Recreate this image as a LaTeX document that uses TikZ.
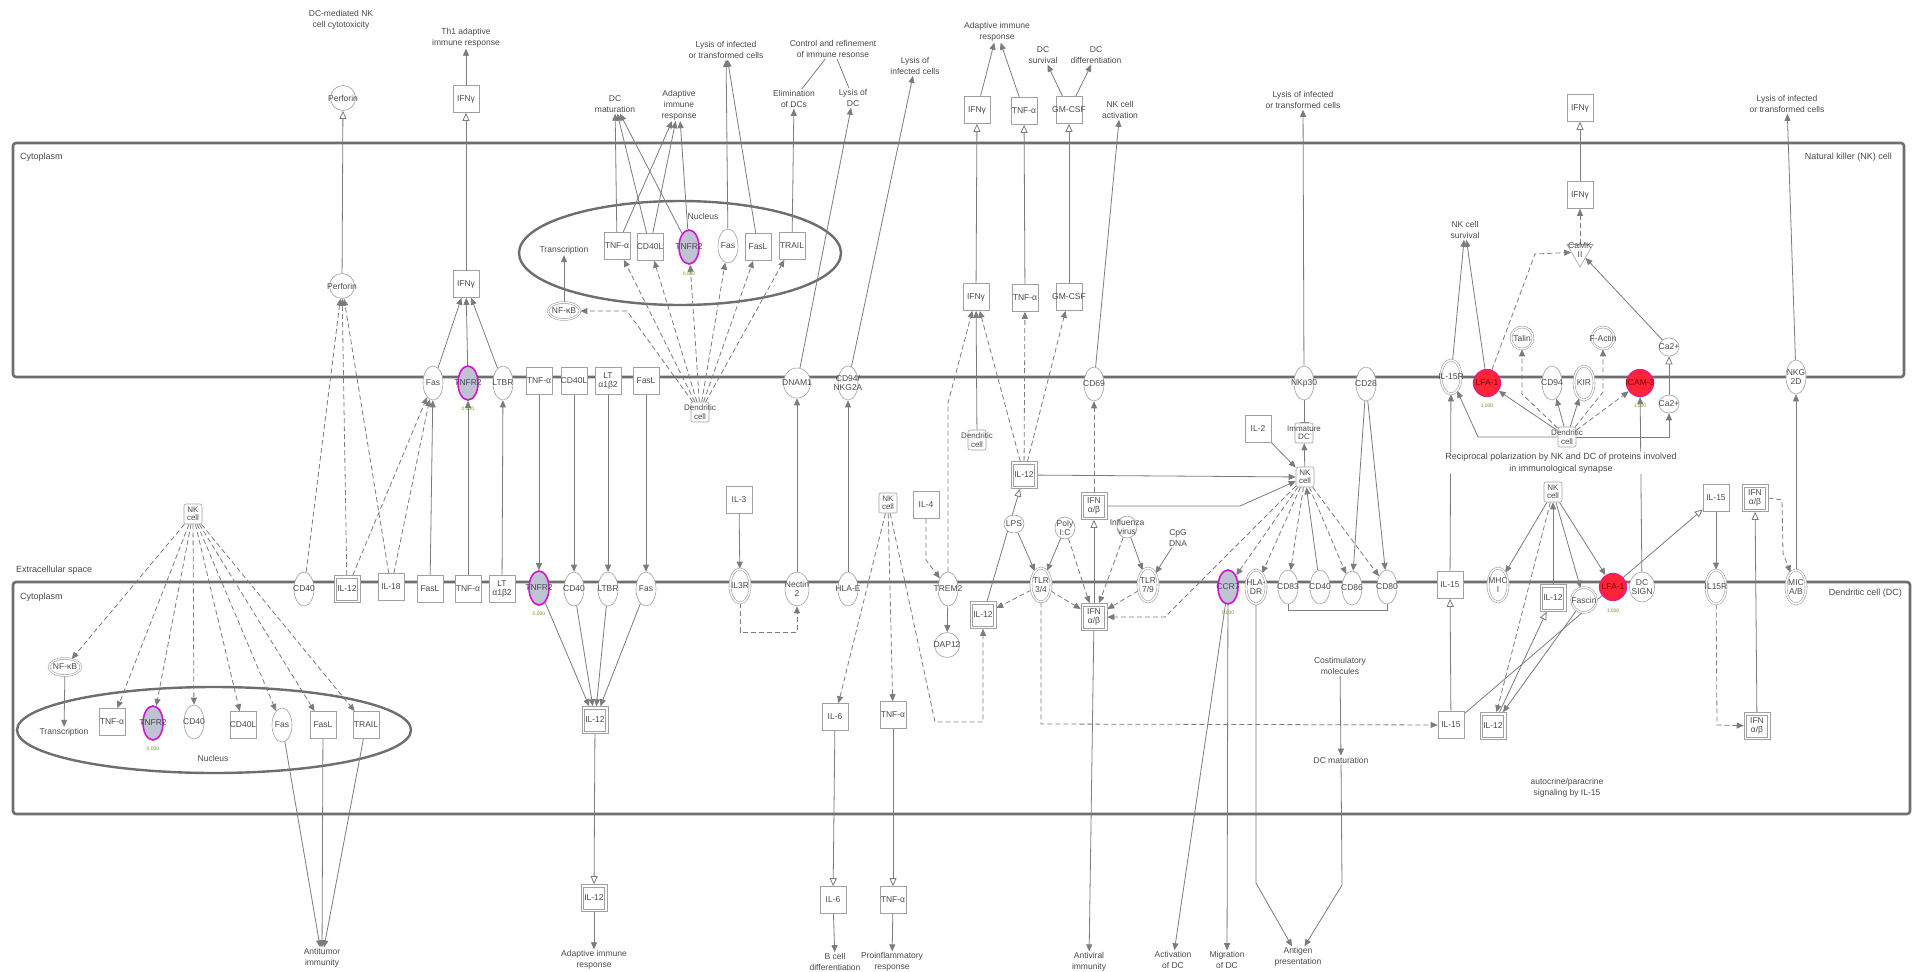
\documentclass[tikz,border=0pt]{standalone}
\usepackage{fontspec}
\setmainfont{Liberation Sans}
\usepackage{tikz}
\usetikzlibrary{positioning, arrows.meta, shapes.geometric, calc}
\pgfdeclarelayer{background}
\pgfdeclarelayer{edges}
\pgfsetlayers{background,edges,main}
\definecolor{lineGray}{HTML}{7C7C7C}
\definecolor{nodeGray}{HTML}{A0A0A0}
\definecolor{memGray}{HTML}{6E6E6E}
\definecolor{txtGray}{HTML}{4A4A4A}
\definecolor{hitMag}{HTML}{D014D0}
\definecolor{hitFill}{HTML}{BEC2D2}
\definecolor{upRed}{HTML}{FF2438}
\definecolor{valGreen}{HTML}{6A9A20}

\begin{document}
\begin{tikzpicture}[
        x=1pt, y=-1pt,
        font=\fontsize{8.5}{9}\selectfont,
        text=txtGray,
        >={Triangle[length=7pt,width=6pt]},
        lbl/.style={inner sep=0pt, align=center, text=txtGray, font=\fontsize{8.5}{9}\selectfont},
        mol/.style={draw=nodeGray, fill=white, line width=0.6pt, inner sep=0pt},
        cyto/.style={mol, rectangle, minimum width=26pt, minimum height=27pt, label={[lbl]center:{#1}}},
        dcyto/.style={cyto={#1}, path picture={
            \draw[nodeGray, line width=0.6pt]
              ([shift={(2.6pt,2.6pt)}]path picture bounding box.south west) rectangle
              ([shift={(-2.6pt,-2.6pt)}]path picture bounding box.north east);}},
        recep/.style={mol, ellipse, minimum width=20pt, minimum height=34pt, label={[lbl]center:{#1}}},
        drecep/.style={recep={#1}, double=white, double distance=1.4pt},
        hit/.style={recep={#1}, draw=hitMag, line width=1.6pt, fill=hitFill},
        upreg/.style={mol, circle, draw=hitMag!60!upRed, line width=1.2pt, fill=upRed,
                      minimum size=27pt, label={[lbl, text=red!50!black]center:{#1}}},
        ball/.style={mol, circle, minimum size=25pt, label={[lbl]center:{#1}}},
        dball/.style={ball={#1}, minimum size=22pt, double=white, double distance=1.2pt},
        chem/.style={mol, ellipse, minimum width=20pt, minimum height=18pt, label={[lbl]center:{#1}}},
        tf/.style={mol, ellipse, minimum width=32pt, minimum height=17pt, double=white,
                   double distance=1.2pt, label={[lbl]center:{#1}}},
        kin/.style={mol, regular polygon, regular polygon sides=3, shape border rotate=180,
                    minimum size=30pt, label={[lbl, yshift=2pt]center:{#1}}},
        cell/.style={mol, rounded corners=2pt, minimum width=18pt, minimum height=20pt,
                     label={[lbl, font=\fontsize{8}{8.5}\selectfont]center:{#1}}},
        func/.style={align=center, inner sep=1pt, font=\fontsize{8.5}{11}\selectfont},
        note/.style={func, fill=white, font=\fontsize{9}{12}\selectfont},
        place/.style={inner sep=1pt, font=\fontsize{9}{11}\selectfont},
        val/.style={inner sep=0pt, text=valGreen, font=\fontsize{5}{5}\selectfont},
        link/.style={draw=lineGray, line width=0.8pt},
        arrow/.style={link, ->},
        darrow/.style={link, ->, dash pattern=on 5pt off 3pt},
        tarrow/.style={link, -{Triangle[open, length=8pt, width=7pt]}},
        inhib/.style={link, -{Bar[width=9pt]}},
        membrane/.style={draw=memGray, line width=2.6pt, rounded corners=3pt},
        nucleus/.style={draw=memGray, line width=2.4pt},
      ]
      \useasboundingbox (0,0) rectangle (1915,972);
      \begin{pgfonlayer}{background}
        \fill[white] (0,0) rectangle (1915,972);
        \draw[membrane] (13,143) rectangle (1904,377);
        \draw[membrane] (13,582) rectangle (1910,814);
        \draw[nucleus] (680,253) ellipse [x radius=161pt, y radius=52pt];
        \draw[nucleus] (214,730) ellipse [x radius=197pt, y radius=43pt];
      \end{pgfonlayer}

      \node[place, anchor=west] (lCytoN) at (19,157) {Cytoplasm};
      \node[place, anchor=east] (lNK) at (1893,157) {Natural killer (NK) cell};
      \node[place, anchor=west] (lExtra) at (15,570) {Extracellular space};
      \node[place, anchor=west] (lCytoD) at (19,597) {Cytoplasm};
      \node[place, anchor=east] (lDC) at (1903,593) {Dendritic cell (DC)};
      \node[func] (lNucN) at (703,216) {Nucleus};
      \node[func] (lNucD) at (213,758) {Nucleus};

      \node[func] (fCytotox) at (341,20) {DC-mediated NK\\cell cytotoxicity};
      \node[func] (fTh1) at (466,38) {Th1 adaptive\\immune response};
      \node[ball={Perforin}] (perfO) at (343,98) {};
      \node[cyto={IFNγ}] (ifngO) at (466,99) {};
      \node[func] (fDCmatA) at (615,104) {DC\\maturation};
      \node[func] (fAdaptA) at (679,105) {Adaptive\\immune\\response};
      \node[func] (fLysisA) at (726,50) {Lysis of infected\\or transformed cells};
      \node[func] (fControl) at (833,49) {Control and refinement\\of immune resonse};
      \node[func] (fElim) at (794,99) {Elimination\\of DCs};
      \node[func] (fLysisDC) at (853,98) {Lysis of\\DC};
      \node[func] (fLysisInf) at (915,66) {Lysis of\\infected cells};
      \node[func] (fAdaptB) at (997,32) {Adaptive immune\\response};
      \node[func] (fDCsurv) at (1043,55) {DC\\survival};
      \node[func] (fDCdiff) at (1096,55) {DC\\differentiation};
      \node[cyto={IFNγ}] (ifngP) at (977,110) {};
      \node[cyto={TNF-α}] (tnfP) at (1024,111) {};
      \node[cyto={GM-CSF}] (gmcsfP) at (1069,110) {};
      \node[func] (fNKact) at (1120,110) {NK cell\\activation};
      \node[func] (fLysisB) at (1303,100) {Lysis of infected\\or transformed cells};
      \node[cyto={IFNγ}] (ifngQ) at (1580,108) {};
      \node[func] (fLysisC) at (1787,104) {Lysis of infected\\or transformed cells};

      \node[ball={Perforin}] (perf) at (342,286) {};
      \node[cyto={IFNγ}] (ifng) at (466,284) {};
      \node[func] (transA) at (564,250) {Transcription};
      \node[cyto={TNF-α}] (tnfNuc) at (617,246) {};
      \node[cyto={CD40L}] (cd40lNuc) at (650,247) {};
      \node[hit={TNFR2}] (tnfr2Nuc) at (689,247) {};
      \node[val] (vTnfr2Nuc) at (689,274) {0.000};
      \node[recep={Fas}] (fasNuc) at (728,246) {};
      \node[cyto={FasL}] (faslNuc) at (758,247) {};
      \node[cyto={TRAIL}] (trailNuc) at (792,246) {};
      \node[tf={NF-κB}] (nfkbA) at (564,311) {};
      \node[cell={Dendritic\\cell}] (dcA) at (700,412) {};
      \node[cyto={IFNγ}] (ifngR) at (976,297) {};
      \node[cyto={TNF-α}] (tnfR) at (1025,298) {};
      \node[cyto={GM-CSF}] (gmcsfR) at (1069,297) {};
      \node[cell={Dendritic\\cell}] (dcB) at (977,440) {};
      \node[dcyto={IL-12}] (il12A) at (1024,475) {};
      \node[cyto={IL-2}] (il2) at (1258,429) {};
      \node[cell={Immature\\DC}] (imDC) at (1304,433) {};
      \node[cell={NK\\cell}] (nkB) at (1305,477) {};
      \node[dcyto={IFN\\α/β}] (ifnabA) at (1094,506) {};
      \node[func] (fNKsurv) at (1465,230) {NK cell\\survival};
      \node[cyto={IFNγ}] (ifngS) at (1580,195) {};
      \node[kin={CaMK\\II}] (camk) at (1580,252) {};
      \node[dball={Talin}] (talin) at (1522,338) {};
      \node[dball={F-Actin}] (factin) at (1603,338) {};
      \node[chem={Ca2+}] (caA) at (1669,347) {};
      \node[chem={Ca2+}] (caB) at (1669,404) {};

      \node[recep={Fas}] (fasA) at (433,383) {};
      \node[hit={TNFR2}] (tnfr2A) at (468,383) {};
      \node[val] (vTnfr2A) at (468,409) {0.000};
      \node[recep={LTBR}] (ltbrA) at (503,383) {};
      \node[cyto={TNF-α}] (tnfA) at (539,381) {};
      \node[cyto={CD40L}] (cd40lA) at (574,381) {};
      \node[cyto={LT\\α1β2}] (ltA) at (608,381) {};
      \node[cyto={FasL}] (faslA) at (646,381) {};
      \node[recep={DNAM1}, minimum width=27pt, minimum height=30pt] (dnam1) at (797,383) {};
      \node[recep={CD94/\\NKG2A}] (cd94A) at (848,383) {};
      \node[recep={CD69}] (cd69) at (1094,384) {};
      \node[recep={NKp30}] (nkp30) at (1304,383) {};
      \node[recep={CD28}] (cd28) at (1366,384) {};
      \node[drecep={IL-15R}] (il15rA) at (1451,377) {};
      \node[upreg={LFA-1}] (lfa1A) at (1487,383) {};
      \node[val] (vLfa1A) at (1487,406) {1.000};
      \node[recep={CD94}] (cd94B) at (1552,383) {};
      \node[drecep={KIR}] (kir) at (1584,383) {};
      \node[upreg={ICAM-3}] (icam3) at (1640,383) {};
      \node[val] (vIcam3) at (1640,406) {1.000};
      \node[recep={NKG\\2D}] (nkg2d) at (1796,377) {};

      \node[cell={NK\\cell}] (nkA) at (193,514) {};
      \node[cyto={IL-3}] (il3) at (739,500) {};
      \node[cell={NK\\cell}] (nkC) at (888,503) {};
      \node[cyto={IL-4}] (il4) at (926,505) {};
      \node[chem={LPS}] (lps) at (1014,524) {};
      \node[chem={Poly\\I:C}, minimum height=22pt] (polyic) at (1065,528) {};
      \node[chem={Influenza\\virus}, minimum height=22pt] (flu) at (1127,527) {};
      \node[func] (cpg) at (1178,538) {CpG\\DNA};
      \node[cell={Dendritic\\cell}] (dcC) at (1567,437) {};
      \node[note] (tRecip) at (1561,463) {Reciprocal polarization by NK and DC of proteins involved\\in immunological synapse};
      \node[cell={NK\\cell}] (nkD) at (1553,492) {};
      \node[cyto={IL-15}] (il15A) at (1716,498) {};
      \node[dcyto={IFN\\α/β}] (ifnabB) at (1755,498) {};

      \node[recep={CD40}] (cd40A) at (304,589) {};
      \node[dcyto={IL-12}] (il12B) at (347,589) {};
      \node[cyto={IL-18}] (il18) at (391,587) {};
      \node[cyto={FasL}] (faslB) at (430,589) {};
      \node[cyto={TNF-α}] (tnfB) at (468,589) {};
      \node[cyto={LT\\α1β2}] (ltB) at (502,589) {};
      \node[hit={TNFR2}] (tnfr2B) at (539,588) {};
      \node[val] (vTnfr2B) at (539,614) {0.000};
      \node[recep={CD40}] (cd40B) at (574,589) {};
      \node[recep={LTBR}] (ltbrB) at (608,589) {};
      \node[recep={Fas}] (fasB) at (646,589) {};
      \node[drecep={IL3R}] (il3r) at (740,586) {};
      \node[recep={Nectin\\2}, minimum width=24pt] (nectin) at (797,589) {};
      \node[recep={HLA-E}] (hlae) at (848,589) {};
      \node[recep={TREM2}] (trem2) at (948,589) {};
      \node[drecep={TLR\\3/4}] (tlr34) at (1041,585) {};
      \node[drecep={TLR\\7/9}] (tlr79) at (1148,585) {};
      \node[hit={CCR7}] (ccr7) at (1228,587) {};
      \node[val] (vCcr7) at (1228,613) {0.000};
      \node[drecep={HLA-\\DR}] (hladr) at (1256,587) {};
      \node[recep={CD83}] (cd83) at (1288,587) {};
      \node[recep={CD40}] (cd40C) at (1320,587) {};
      \node[recep={CD86}] (cd86) at (1352,588) {};
      \node[recep={CD80}] (cd80) at (1387,587) {};
      \node[cyto={IL-15}] (il15B) at (1450,585) {};
      \node[drecep={MHC\\I}] (mhc) at (1498,585) {};
      \node[dcyto={IL-12}] (il12C) at (1553,598) {};
      \node[dball={Fascin}, minimum size=25pt] (fascin) at (1584,600) {};
      \node[upreg={LFA-1}] (lfa1B) at (1613,587) {};
      \node[val] (vLfa1B) at (1613,611) {1.000};
      \node[recep={DC\\SIGN}, minimum width=25pt, minimum height=30pt] (dcsign) at (1642,587) {};
      \node[drecep={IL15R}] (il15rB) at (1716,587) {};
      \node[drecep={MIC\\A/B}] (mica) at (1796,587) {};

      \node[ball={DAP12}] (dap12) at (947,645) {};
      \node[dcyto={IL-12}] (il12D) at (983,615) {};
      \node[dcyto={IFN\\α/β}] (ifnabC) at (1094,617) {};
      \node[tf={NF-κB}] (nfkbB) at (65,667) {};
      \node[func] (transB) at (64,732) {Transcription};
      \node[cyto={TNF-α}] (tnfNucB) at (112,722) {};
      \node[hit={TNFR2}] (tnfr2NucB) at (153,723) {};
      \node[val] (vTnfr2NucB) at (153,749) {0.000};
      \node[recep={CD40}] (cd40Nuc) at (194,722) {};
      \node[cyto={CD40L}] (cd40lNucB) at (243,725) {};
      \node[recep={Fas}] (fasNucB) at (282,725) {};
      \node[cyto={FasL}] (faslNucB) at (323,725) {};
      \node[cyto={TRAIL}] (trailNucB) at (366,725) {};
      \node[dcyto={IL-12}] (il12E) at (595,720) {};
      \node[cyto={IL-6}] (il6A) at (835,717) {};
      \node[cyto={TNF-α}] (tnfC) at (893,715) {};
      \node[func] (costim) at (1340,666) {Costimulatory\\molecules};
      \node[func] (fDCmatB) at (1341,760) {DC maturation};
      \node[cyto={IL-15}] (il15C) at (1451,725) {};
      \node[dcyto={IL-12}] (il12F) at (1493,726) {};
      \node[dcyto={IFN\\α/β}] (ifnabD) at (1757,726) {};
      \node[func] (tAuto) at (1567,788) {autocrine/paracrine\\signaling by IL-15};

      \node[func] (fAntitumor) at (322,958) {Antitumor\\immunity};
      \node[dcyto={IL-12}] (il12G) at (594,898) {};
      \node[cyto={IL-6}] (il6B) at (833,900) {};
      \node[cyto={TNF-α}] (tnfD) at (893,900) {};
      \node[func] (fAdaptC) at (594,960) {Adaptive immune\\response};
      \node[func] (fBcell) at (835,962) {B cell\\differentiation};
      \node[func] (fProinf) at (892,962) {Proinflammatory\\response};
      \node[func] (fAntiviral) at (1089,962) {Antiviral\\immunity};
      \node[func] (fActDC) at (1173,960) {Activation\\of DC};
      \node[func] (fMigDC) at (1227,960) {Migration\\of DC};
      \node[func] (fAntigen) at (1298,957) {Antigen\\presentation};

      \begin{pgfonlayer}{edges}
        \draw[tarrow] (perf) -- (perfO);
        \draw[tarrow] (ifng) -- (ifngO);
        \draw[arrow] (ifngO) -- (fTh1);
        \foreach \s in {fasA, tnfr2A, ltbrA} \draw[arrow] (\s) -- (ifng);
        \foreach \s in {cd40A, il12B, il18} \draw[darrow] (\s) -- (perf);
        \draw[darrow] (il12B) -- (fasA);
        \draw[darrow] (il18) -- (fasA);
        \draw[arrow] (faslB) -- (fasA);
        \draw[arrow] (tnfB) -- (tnfr2A);
        \draw[arrow] (ltB) -- (ltbrA);
        \draw[arrow] (tnfA) -- (tnfr2B);
        \draw[arrow] (cd40lA) -- (cd40B);
        \draw[arrow] (ltA) -- (ltbrB);
        \draw[arrow] (faslA) -- (fasB);
        \foreach \s in {tnfr2B, cd40B, ltbrB, fasB} \draw[arrow] (\s) -- (il12E);
        \draw[tarrow] (il12E) -- (il12G);
        \draw[arrow] (il12G) -- (fAdaptC);

        \foreach \s in {tnfNuc, cd40lNuc, tnfr2Nuc} {
          \draw[arrow] (\s) -- (fDCmatA);
          \draw[arrow] (\s) -- (fAdaptA);
        }
        \draw[arrow] (fasNuc) -- (fLysisA);
        \draw[arrow] (faslNuc) -- (fLysisA);
        \draw[arrow] (trailNuc) -- (fElim);
        \draw[link] (fElim) -- (fControl);
        \draw[link] (fLysisDC) -- (fControl);
        \foreach \t in {tnfNuc, cd40lNuc, tnfr2Nuc, fasNuc, faslNuc, trailNuc} \draw[darrow] (dcA) -- (\t);
        \draw[darrow] (dcA) -- (627,311) -- (nfkbA);
        \draw[arrow] (nfkbA) -- (transA);

        \draw[arrow] (dnam1) -- (fLysisDC);
        \draw[arrow] (nectin) -- (dnam1);
        \draw[arrow] (cd94A) -- (fLysisInf);
        \draw[arrow] (hlae) -- (cd94A);
        \draw[arrow] (il3) -- (il3r);
        \draw[darrow] (il3r.south) -- (740,632) -- (797,632) -- (nectin.south);
        \draw[darrow] (il4) -- (926,560) -- (trem2);
        \draw[arrow] (trem2) -- (dap12);
        \draw[darrow] (trem2.north) -- (948,403) -- (ifngR);
        \draw[darrow] (nkC) -- (il6A);
        \draw[darrow] (nkC) -- (tnfC);
        \draw[darrow] (nkC) -- (935,722) -- (983,722) -- (il12D);
        \draw[tarrow] (il6A) -- (il6B);
        \draw[arrow] (il6B) -- (fBcell);
        \draw[tarrow] (tnfC) -- (tnfD);
        \draw[arrow] (tnfD) -- (fProinf);

        \draw[tarrow] (ifngR) -- (ifngP);
        \draw[tarrow] (tnfR) -- (tnfP);
        \draw[tarrow] (gmcsfR) -- (gmcsfP);
        \draw[arrow] (ifngP) -- (fAdaptB);
        \draw[arrow] (tnfP) -- (fAdaptB);
        \draw[arrow] (gmcsfP) -- (fDCsurv);
        \draw[arrow] (gmcsfP) -- (fDCdiff);
        \foreach \t in {ifngR, tnfR, gmcsfR} \draw[darrow] (il12A) -- (\t);
        \draw[arrow] (dcB) -- (ifngR);
        \draw[arrow] (il12A) -- (nkB);
        \draw[arrow] (cd69) -- (fNKact);
        \draw[darrow] (ifnabA) -- (cd69);
        \draw[arrow] (ifnabA.east) -- (1240,506) -- (nkB);
        \draw[tarrow] (il12D) -- (il12A);
        \draw[arrow] (lps) -- (tlr34);
        \draw[arrow] (polyic) -- (tlr34);
        \draw[arrow] (flu) -- (tlr79);
        \draw[arrow] (cpg) -- (tlr79);
        \draw[darrow] (tlr34) -- (il12D);
        \foreach \s in {tlr34, polyic, flu, tlr79} \draw[darrow] (\s) -- (ifnabC);
        \draw[tarrow] (ifnabC) -- (ifnabA);
        \draw[arrow] (ifnabC) -- (fAntiviral);
        \draw[darrow] (tlr34.south) -- (1041,724) -- (il15C);

        \draw[arrow] (nkp30) -- (fLysisB);
        \draw[inhib] (nkp30) -- (imDC);
        \draw[arrow] (nkB) -- (imDC);
        \draw[arrow] (il2) -- (nkB);
        \foreach \t in {ccr7, hladr, cd83, cd86, cd80} \draw[darrow] (nkB) -- (\t);
        \draw[arrow] (cd40C) -- (nkB);
        \draw[darrow] (nkB) -- (1165,617) -- (ifnabC);
        \draw[arrow] (cd28) -- (cd86);
        \draw[arrow] (cd28) -- (cd80);
        \draw[link] (cd83.south) -- ++(0,6) -| (cd80.south);
        \draw[arrow] (ccr7) -- (fActDC);
        \draw[arrow] (ccr7) -- (fMigDC);
        \draw[arrow] (hladr.south) -- (1256,883) -- (fAntigen);
        \draw[arrow] (costim) -- (fDCmatB);
        \draw[arrow] (fDCmatB) -- (1342,885) -- (fAntigen);

        \draw[arrow] (il15B) -- (il15rA);
        \draw[tarrow] (il15C) -- (il15B);
        \draw[arrow] (il15rA) -- (fNKsurv);
        \draw[arrow] (lfa1A) -- (fNKsurv);
        \draw[darrow] (lfa1A) -- (1535,254) -- (camk);
        \draw[darrow] (camk) -- (ifngS);
        \draw[tarrow] (ifngS) -- (ifngQ);
        \draw[arrow] (caA) -- (camk);
        \draw[tarrow] (caB) -- (caA);
        \foreach \t in {lfa1A, cd94B, kir} \draw[arrow] (dcC) -- (\t);
        \draw[darrow] (dcC) -- (icam3);
        \draw[darrow] (dcC) -- (1522,394) -- (talin);
        \draw[darrow] (dcC) -- (1603,392) -- (factin);
        \draw[arrow] (dcC.west) -- (1478,437) -- (il15rA);
        \draw[arrow] (dcC.east) -- (1669,437) -- (caB);
        \draw[arrow] (dcsign) -- (icam3);
        \draw[arrow] (mica) -- (nkg2d);
        \draw[arrow] (nkg2d) -- (fLysisC);
        \draw[arrow] (il15A) -- (il15rB);
        \draw[tarrow] (il15C) -- (il15A);
        \draw[tarrow] (ifnabD) -- (ifnabB);
        \draw[darrow] (ifnabB.east) -- (1782,500) -- (1783,553) -- (mica);
        \draw[darrow] (il15rB) -- (1717,725) -- (ifnabD);
        \foreach \t in {mhc, fascin, lfa1B} \draw[arrow] (nkD) -- (\t);
        \draw[arrow] (il12C) -- (nkD);
        \draw[darrow] (nkD) -- (il12F);
        \draw[tarrow] (il12F) -- (il12C);
        \draw[arrow] (fascin) -- (il12F);

        \foreach \t in {nfkbB, tnfNucB, tnfr2NucB, cd40Nuc, cd40lNucB, fasNucB, faslNucB, trailNucB} \draw[darrow] (nkA) -- (\t);
        \draw[arrow] (nfkbB) -- (transB);
        \foreach \s in {fasNucB, faslNucB, trailNucB} \draw[arrow] (\s) -- (fAntitumor);
      \end{pgfonlayer}
    \end{tikzpicture}
\end{document}
